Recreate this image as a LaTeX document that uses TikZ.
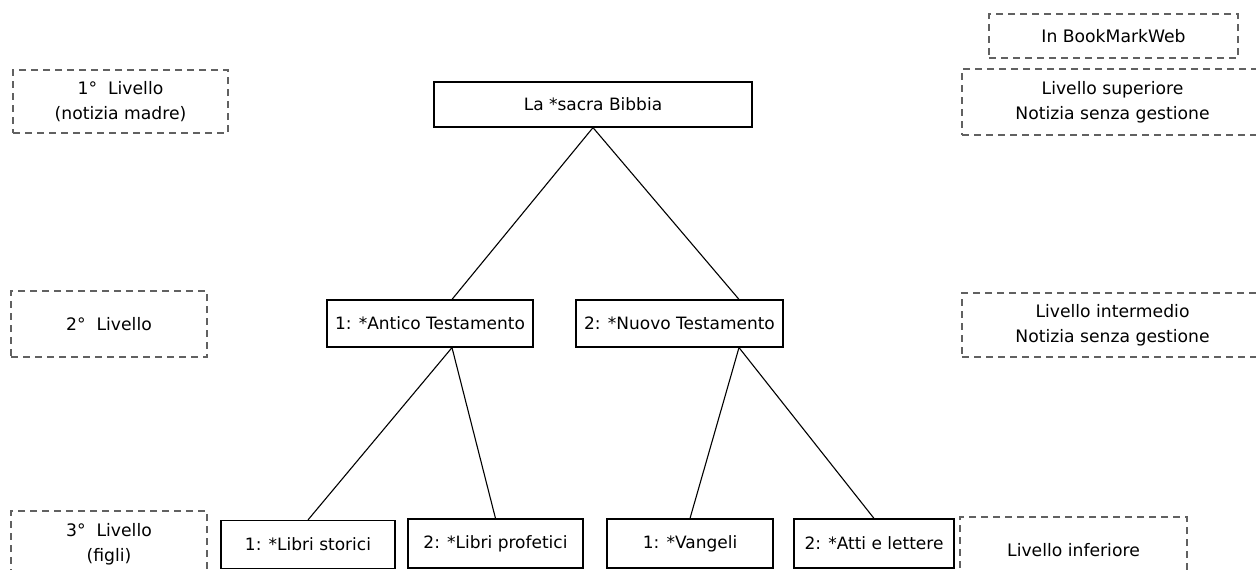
\documentclass[tikz,border=0pt]{standalone}
\usepackage{fontspec}
\setmainfont{DejaVu Sans}
\usepackage{tikz}

\tikzset{
  tbox/.style={draw=black, line width=1.2pt, fill=white, inner sep=0pt, align=center,
    font=\fontsize{17}{24}\selectfont},
  lbox/.style={draw=black!62, line width=1.1pt, dash pattern=on 7pt off 5pt, inner sep=0pt,
    align=center, font=\fontsize{17.2}{25}\selectfont},
  link/.style={line width=1.1pt}
}

\begin{document}
\begin{tikzpicture}[x=1pt, y=-1pt]
            \useasboundingbox (0,0) rectangle (1256,570);

            % Tree of records
            \node[tbox, minimum width=318, minimum height=45] (bibbia) at (593,104.5) {La *sacra Bibbia};

            \node[tbox, minimum width=206, minimum height=47] (antico) at (430,323.5) {1: *Antico Testamento};
            \node[tbox, minimum width=207, minimum height=47] (nuovo) at (679.5,323.5) {2: *Nuovo Testamento};

            \node[tbox, minimum width=174, minimum height=48] (storici) at (308,544.5) {1: *Libri storici};
            \node[tbox, minimum width=175, minimum height=49] (profetici) at (495.5,543.5) {2: *Libri profetici};
            \node[tbox, minimum width=166, minimum height=49] (vangeli) at (690,543.5) {1: *Vangeli};
            \node[tbox, minimum width=160, minimum height=49] (atti) at (874,543.5) {2: *Atti e lettere};

            % Connect the records
            \draw[link] (bibbia.south) -- ([xshift=22pt]antico.north);
            \draw[link] (bibbia.south) -- ([xshift=59.5pt]nuovo.north);
            \draw[link] ([xshift=22pt]antico.south) -- (storici.north);
            \draw[link] ([xshift=22pt]antico.south) -- (profetici.north);
            \draw[link] ([xshift=59.5pt]nuovo.south) -- (vangeli.north);
            \draw[link] ([xshift=59.5pt]nuovo.south) -- (atti.north);

            % Level labels on the left
            \node[lbox, minimum width=215, minimum height=63] (liv1) at (120.5,101.5) {1°\ \ Livello\\(notizia madre)};
            \node[lbox, minimum width=196, minimum height=66] (liv2) at (109,324) {2°\ \ Livello};
            \node[lbox, minimum width=196, minimum height=66] (liv3) at (109,544) {3°\ \ Livello\\(figli)};

            % BookMarkWeb labels on the right
            \node[lbox, minimum width=249, minimum height=44] (bmw) at (1113.5,36) {In BookMarkWeb};
            \node[lbox, minimum width=301, minimum height=66] (sup) at (1112.5,102) {Livello superiore\\Notizia senza gestione};
            \node[lbox, minimum width=301, minimum height=64] (inter) at (1112.5,325) {Livello intermedio\\Notizia senza gestione};
            \node[lbox, minimum width=227, minimum height=66] (inf) at (1073.5,550) {Livello inferiore};
        \end{tikzpicture}
\end{document}
